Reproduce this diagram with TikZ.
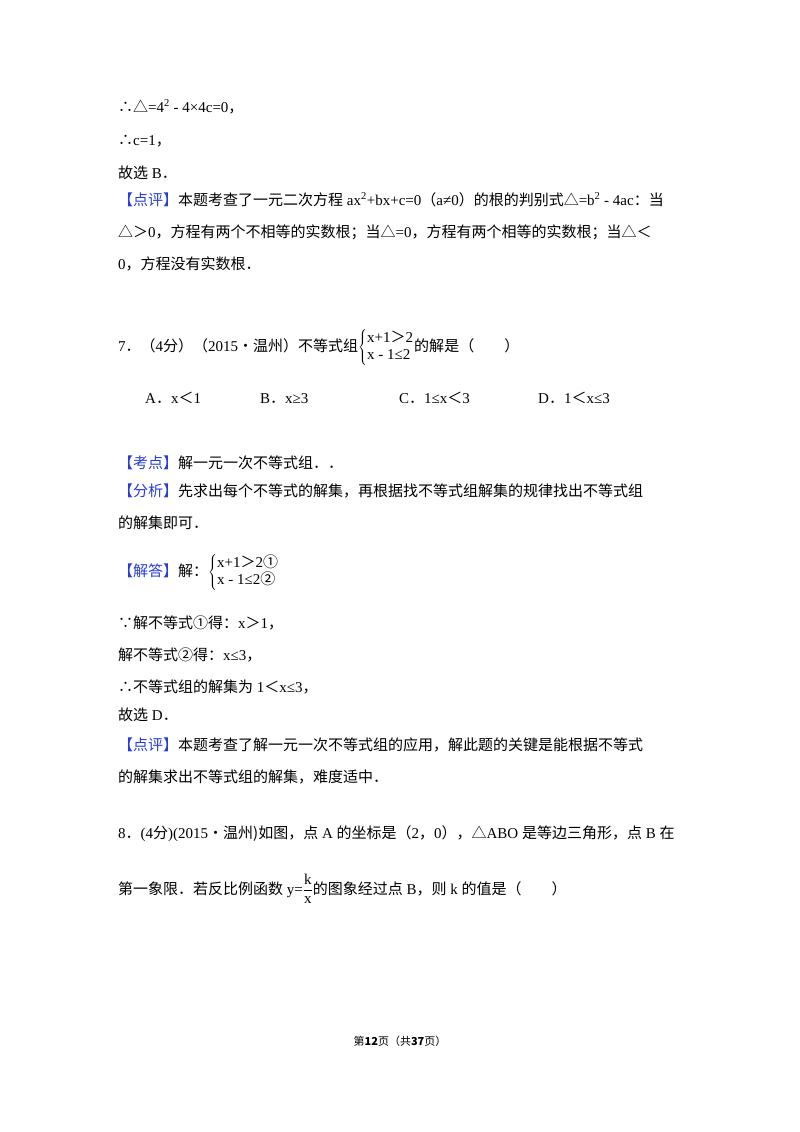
\documentclass[tikz,border=0pt]{standalone}
\usepackage{fontspec}
\setmainfont{Liberation Serif}
\newfontfamily\cjk{Noto Sans CJK SC}
\definecolor{kw}{RGB}{40,60,220}
\newcommand{\kwd}[1]{{\color{kw}\cjk【#1】}}
\newcommand{\pd}{{\cjk ．}}
\newcommand{\sysA}[2]{$\left\{\begin{array}{@{}l@{}}\mbox{#1}\\[-1pt]\mbox{#2}\end{array}\right.$}
\begin{document}
\begin{tikzpicture}[x=1pt,y=-1pt,
  ln/.style={anchor=base west,inner sep=0pt,font=\fontsize{15}{18}\selectfont}]
\useasboundingbox (0,0) rectangle (800,1132);
\fill[white] (0,0) rectangle (800,1132);
\node[ln] (l1) at (118,112) {{\cjk ∴△}=4\textsuperscript{2} - 4×4c=0{\cjk ，}};
\node[ln] (l2) at (118,145) {{\cjk ∴}c=1{\cjk ，}};
\node[ln] (l3) at (118,178) {{\cjk 故选} B\pd};
\node[ln] (l4) at (118,205) {\kwd{点评}{\cjk 本题考查了一元二次方程} ax\textsuperscript{2}+bx+c=0{\cjk （}a≠0{\cjk ）的根的判别式△}=b\textsuperscript{2} - 4ac{\cjk ：当}};
\node[ln] (l5) at (118,237) {{\cjk △＞}0{\cjk ，方程有两个不相等的实数根；当△}=0{\cjk ，方程有两个相等的实数根；当△＜}};
\node[ln] (l6) at (118,269) {0{\cjk ，方程没有实数根}\pd};
\node[ln] (q7) at (118,351) {7\pd{\cjk （}4{\cjk 分）（}2015{\cjk •温州）不等式组}\sysA{x+1{\cjk ＞}2}{x - 1≤2}{\cjk 的解是（\quad\quad ）}};
\node[ln] (oa) at (145,403) {A\pd x{\cjk ＜}1};
\node[ln] (ob) at (260,403) {B\pd x≥3};
\node[ln] (oc) at (399,403) {C\pd 1≤x{\cjk ＜}3};
\node[ln] (od) at (538,403) {D\pd 1{\cjk ＜}x≤3};
\node[ln] (k1) at (118,468) {\kwd{考点}{\cjk 解一元一次不等式组}\pd\pd};
\node[ln] (f1) at (118,496) {\kwd{分析}{\cjk 先求出每个不等式的解集，再根据找不等式组解集的规律找出不等式组}};
\node[ln] (f2) at (118,528) {{\cjk 的解集即可}\pd};
\node[ln] (j1) at (118,576) {\kwd{解答}{\cjk 解：}\sysA{x+1{\cjk ＞}2{\cjk ①}}{x - 1≤2{\cjk ②}}};
\node[ln] (j2) at (118,628) {{\cjk ∵解不等式①得：}x{\cjk ＞}1{\cjk ，}};
\node[ln] (j3) at (118,660) {{\cjk 解不等式②得：}x≤3{\cjk ，}};
\node[ln] (j4) at (118,692) {{\cjk ∴不等式组的解集为} 1{\cjk ＜}x≤3{\cjk ，}};
\node[ln] (j5) at (118,720) {{\cjk 故选} D\pd};
\node[ln] (p1) at (118,750) {\kwd{点评}{\cjk 本题考查了解一元一次不等式组的应用，解此题的关键是能根据不等式}};
\node[ln] (p2) at (118,782) {{\cjk 的解集求出不等式组的解集，难度适中}\pd};
\node[ln] (q8) at (118,838) {8\pd(4{\cjk 分})(2015{\cjk •温州)如图，点} A {\cjk 的坐标是（}2{\cjk ，}0{\cjk ），△}ABO {\cjk 是等边三角形，点} B {\cjk 在}};
\node[ln] (q8b) at (118,894) {{\cjk 第一象限}\pd{\cjk 若反比例函数} y=$\displaystyle\frac{\mbox{k}}{\mbox{x}}${\cjk 的图象经过点} B{\cjk ，则} k {\cjk 的值是（\quad\quad ）}};
\node[anchor=base,inner sep=0pt,font=\fontsize{11}{13}\selectfont] (ft) at (400,1045) {{\cjk 第\textbf{12}页（共\textbf{37}页）}};
\end{tikzpicture}
\end{document}
